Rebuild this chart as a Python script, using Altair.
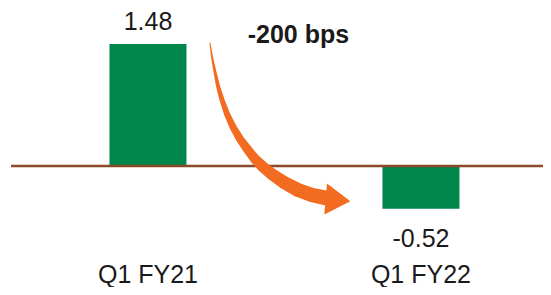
import altair as alt
import pandas as pd

# ---- data ----
quarters = ["Q1 FY21", "Q1 FY22"]
values = [1.48, -0.52]
value_labels = ["1.48", "-0.52"]

# annotation: curved arrow path (x in category-index units, y in value units)
arrow_u = [0.2271, 0.2344, 0.2454, 0.2564, 0.2711, 0.2894, 0.3114, 0.3370,
           0.3663, 0.3919, 0.4212, 0.4579, 0.5018, 0.5495, 0.6007, 0.6520]
arrow_v = [1.4927, 1.3228, 1.1408, 0.9709, 0.8010, 0.6311, 0.4733, 0.3277,
           0.1942, 0.0850, -0.0121, -0.1092, -0.2063, -0.2913, -0.3519, -0.3883]
arrow_w = [1, 2, 3, 4, 5, 6, 7, 8, 9, 10, 11, 12, 13, 14, 14.5, 15]
head_u = [0.696]
head_v = [-0.413]
note_text = ["-200 bps"]
note_u = [0.551]
note_v = [1.493]

FONT = "Liberation Sans"
GREEN = "#00854A"
BROWN = "#8C4A2A"
ORANGE = "#F26B21"
TEXT = "#1A1A1A"

bars_df = pd.DataFrame({"quarter": quarters, "value": values, "label": value_labels})
arrow_df = pd.DataFrame({"u": arrow_u, "v": arrow_v, "w": arrow_w, "o": list(range(len(arrow_u)))})
head_df = pd.DataFrame({"u": head_u, "v": head_v})
note_df = pd.DataFrame({"u": note_u, "v": note_v, "t": note_text})

yscale = alt.Scale(domain=[-1.019, 1.917], nice=False, zero=False)
xscale = alt.Scale(domain=quarters, paddingInner=0.718, paddingOuter=0.3334, align=0.541)
xaxis = alt.Axis(
    title=None, domain=False, ticks=False, tickSize=0, labelAngle=0,
    labelFont=FONT, labelFontSize=25, labelColor=TEXT, labelPadding=12,
    grid=False,
)
xband = alt.X("quarter:N", sort=quarters, scale=xscale, axis=xaxis)
uscale = alt.Scale(domain=[-0.5018, 1.4469], nice=False, zero=False)

base = alt.Chart(bars_df)

bars = base.mark_bar(color=GREEN).encode(
    x=xband,
    y=alt.Y("value:Q", scale=yscale, axis=None),
)

pos_text = base.transform_filter("datum.value >= 0").mark_text(
    font=FONT, fontSize=25, color=TEXT, baseline="alphabetic", dy=-14
).encode(x=xband, y=alt.Y("value:Q", scale=yscale, axis=None), text="label:N")

neg_text = base.transform_filter("datum.value < 0").mark_text(
    font=FONT, fontSize=25, color=TEXT, baseline="alphabetic", dy=38
).encode(x=xband, y=alt.Y("value:Q", scale=yscale, axis=None), text="label:N")

zero_rule = alt.Chart(pd.DataFrame({"z": [0]})).mark_rule(color=BROWN, strokeWidth=2.5).encode(
    y=alt.Y("z:Q", scale=yscale, axis=None)
)

main = alt.layer(bars, zero_rule, pos_text, neg_text)

arrow = alt.Chart(arrow_df).mark_trail(color=ORANGE).encode(
    x=alt.X("u:Q", scale=uscale, axis=None),
    y=alt.Y("v:Q", scale=yscale, axis=None),
    size=alt.Size("w:Q", scale=None, legend=None),
    order="o:Q",
)

head = alt.Chart(head_df).mark_point(
    shape="M 0.8 0 L -0.8 -1 L -0.8 1 Z", filled=True, color=ORANGE, opacity=1,
    size=961, angle=5, strokeWidth=0,
).encode(
    x=alt.X("u:Q", scale=uscale, axis=None),
    y=alt.Y("v:Q", scale=yscale, axis=None),
)

note = alt.Chart(note_df).mark_text(
    font=FONT, fontSize=25, fontWeight="bold", color=TEXT, baseline="alphabetic", align="center"
).encode(
    x=alt.X("u:Q", scale=uscale, axis=None),
    y=alt.Y("v:Q", scale=yscale, axis=None),
    text="t:N",
)

annot = alt.layer(arrow, head, note)

chart = alt.layer(main, annot).resolve_scale(
    x="independent"
).properties(
    width=532, height=242,
    padding={"left": 3, "top": 0, "right": 0, "bottom": 37},
    autosize=alt.AutoSizeParams(type="none"),
).configure_view(stroke=None)

chart.save("out.html", embed_options={"renderer": "svg", "actions": False})
